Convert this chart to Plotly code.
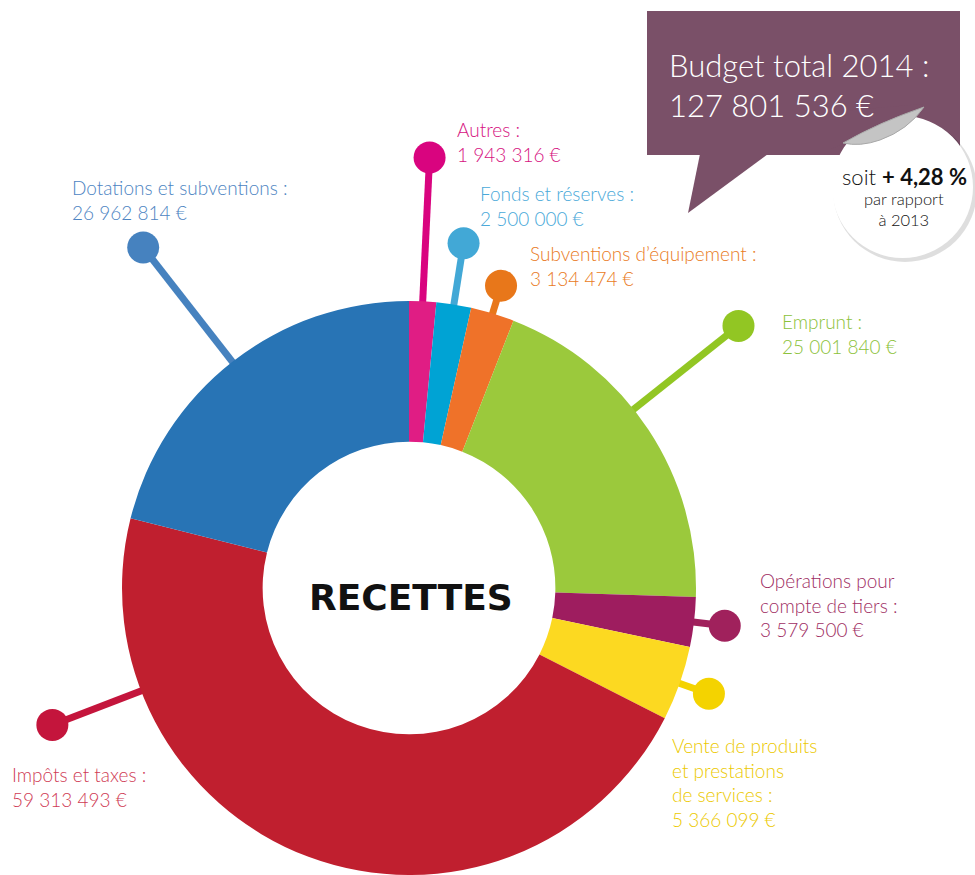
import math
import plotly.graph_objects as go

# Budget 2014 : recettes (en euros)
categories = [
    "Autres",
    "Fonds et réserves",
    "Subventions d’équipement",
    "Emprunt",
    "Opérations pour compte de tiers",
    "Vente de produits et prestations de services",
    "Impôts et taxes",
    "Dotations et subventions",
]
values = [1943316, 2500000, 3134474, 25001840, 3579500, 5366099, 59313493, 26962814]
label_titles = [
    "Autres :",
    "Fonds et réserves :",
    "Subventions d’équipement :",
    "Emprunt :",
    "Opérations pour<br>compte de tiers :",
    "Vente de produits<br>et prestations<br>de services :",
    "Impôts et taxes :",
    "Dotations et subventions :",
]
total_label = "127 801 536 €"
evolution_label = "+ 4,28 %"

slice_colors = ["#e01d84", "#00a3d4", "#ef7229", "#9bc93c", "#9e1d5f", "#fcd921", "#c01f2f", "#2874b5"]
pin_colors = ["#d9047f", "#42a8d6", "#e8771a", "#92c623", "#a0215c", "#f4d300", "#c4153c", "#4682bf"]
text_colors = ["#d6127f", "#4aa9d9", "#e97b25", "#8cc23a", "#a02e63", "#ecc900", "#cf3b55", "#4d84c2"]

W, H = 975, 875
CX, CY, R = 409, 588, 287          # donut centre and outer radius (px)
FONT = "Lato"

# pin layout: radius of the pin head, optional angle override, label anchor
pin_radius = [431, 349, 316, 421, 318, 318, 382, 432]
pin_angle = [None, None, None, 51.5, None, None, 249, None]
label_xy = [(455, 116), (478, 180), (528, 240), (780, 308),
            (758, 567), (670, 732), (10, 761), (70, 174)]


def fmt_euro(v):
    return f"{v:,}".replace(",", " ") + " €"


def polar(theta_deg, r):
    t = math.radians(theta_deg)
    return CX + r * math.sin(t), CY - r * math.cos(t)


fig = go.Figure()

# pins: one stem + head per category, angle taken from the slice middle
total = sum(values)
cum = 0
for i, v in enumerate(values):
    mid = (cum + v / 2) / total * 360
    cum += v
    ang = pin_angle[i] if pin_angle[i] is not None else mid
    x0, y0 = polar(ang, R - 20)
    x1, y1 = polar(ang, pin_radius[i])
    fig.add_trace(go.Scatter(
        x=[x0, x1], y=[y0, y1], mode="lines",
        line=dict(color=pin_colors[i], width=7),
        hoverinfo="skip", showlegend=False,
    ))
    fig.add_trace(go.Scatter(
        x=[x1], y=[y1], mode="markers",
        marker=dict(size=32, color=pin_colors[i], opacity=1, line=dict(width=0)),
        hoverinfo="skip", showlegend=False,
    ))
    lx, ly = label_xy[i]
    fig.add_annotation(
        x=lx, y=ly, xref="x", yref="y", xanchor="left", yanchor="top",
        align="left", showarrow=False,
        text=f"{label_titles[i]}<br>{fmt_euro(v)}",
        font=dict(family=FONT, size=19, color=text_colors[i], weight=300),
    )

# the donut itself
fig.add_trace(go.Pie(
    labels=categories, values=values, sort=False, direction="clockwise",
    rotation=0, hole=0.51,
    marker=dict(colors=slice_colors, line=dict(width=0)),
    textinfo="none", hoverinfo="label+value", showlegend=False,
    domain=dict(x=[(CX - R) / W, (CX + R) / W], y=[0, 2 * R / H]),
))

fig.add_annotation(
    x=CX + 2, y=597, xref="x", yref="y", showarrow=False,
    text="<b>RECETTES</b>",
    font=dict(family="DejaVu Sans", size=36, color="#111111"),
)

# speech bubble with the total budget
box = "#7a5068"
shapes = [
    dict(type="rect", x0=647, y0=11, x1=960, y1=155, fillcolor=box, line=dict(width=0)),
    dict(type="path", path="M 700 154 L 768 154 L 688 213 Z", fillcolor=box, line=dict(width=0)),
    # sticker shadow + sticker
    dict(type="circle", x0=833, y0=118, x1=977, y1=262, fillcolor="rgba(0,0,0,0.13)", line=dict(width=0)),
    dict(type="circle", x0=832, y0=116, x1=973, y1=258, fillcolor="white", line=dict(width=0)),
    # folded corner of the sticker
    dict(type="path", path="M 830 112 L 922 104 L 924 107 Q 880 122 843 143 L 830 150 Z",
         fillcolor=box, line=dict(width=0)),
    dict(type="path", path="M 843 143 Q 880 122 924 107 Q 908 130 880 140 Q 860 147 843 143 Z",
         fillcolor="#c4c4c4", line=dict(color="#a8a8a8", width=1)),
]
for s in shapes:
    s.update(xref="x", yref="y", layer="above")
    fig.add_shape(s)

fig.add_annotation(
    x=667, y=44, xref="x", yref="y", xanchor="left", yanchor="top", align="left",
    showarrow=False, text=f"Budget total 2014 :<br>{total_label}",
    font=dict(family=FONT, size=31, color="white", weight=300),
)
fig.add_annotation(
    x=904, y=176, xref="x", yref="y", showarrow=False,
    text=f"soit <b>{evolution_label}</b>",
    font=dict(family=FONT, size=22, color="#111111", weight=300),
)
fig.add_annotation(
    x=904, y=209, xref="x", yref="y", showarrow=False,
    text="par rapport<br>à 2013",
    font=dict(family=FONT, size=16.5, color="#111111", weight=300),
)

fig.update_layout(
    width=W, height=H, margin=dict(l=0, r=0, t=0, b=0),
    paper_bgcolor="white", plot_bgcolor="white",
    xaxis=dict(range=[0, W], visible=False, fixedrange=True, domain=[0, 1]),
    yaxis=dict(range=[H, 0], visible=False, fixedrange=True, domain=[0, 1]),
)

fig.write_html("out.html")
